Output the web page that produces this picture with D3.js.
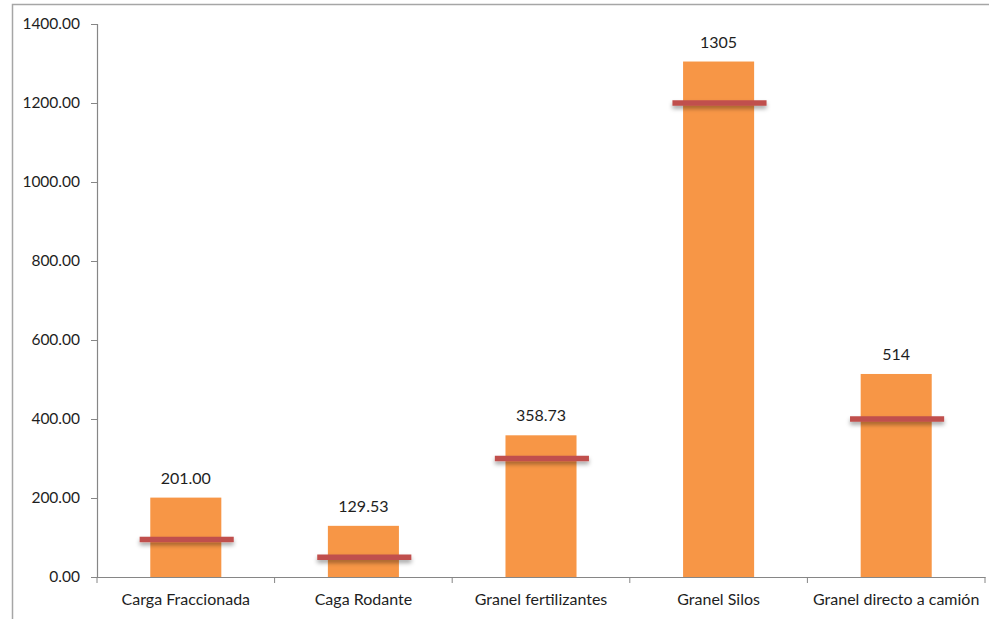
<!DOCTYPE html>
<html>
<head>
<meta charset="utf-8">
<script src="https://cdn.jsdelivr.net/npm/d3@7"></script>
<style>
  body { margin: 0; background: #fff; }
  text { font-family: Lato, "Noto Sans", sans-serif; fill: #1e1e1e; }
</style>
</head>
<body>
<div id="chartContainer"></div>
<script>
const categories = ["Carga Fraccionada", "Caga Rodante", "Granel fertilizantes", "Granel Silos", "Granel directo a camión"];
const barValues = [201.00, 129.53, 358.73, 1305, 514];
const barLabels = ["201.00", "129.53", "358.73", "1305", "514"];
const targetValues = [95, 50, 300, 1200, 400];
const yTicks = [0, 200, 400, 600, 800, 1000, 1200, 1400];

const chartWidth = 989;
const chartHeight = 619;
const margin = { top: 24, right: 4, bottom: 42, left: 97 };
const width = chartWidth - margin.left - margin.right;
const height = chartHeight - margin.top - margin.bottom;

const root = d3.select("#chartContainer").append("svg")
  .attr("width", chartWidth)
  .attr("height", chartHeight);

// shadow for the target lines
const defs = root.append("defs");
const filter = defs.append("filter").attr("id", "shadow")
  .attr("filterUnits", "userSpaceOnUse")
  .attr("x", 0).attr("y", 0).attr("width", chartWidth).attr("height", chartHeight);
filter.append("feDropShadow")
  .attr("dx", 0).attr("dy", 3).attr("stdDeviation", 2)
  .attr("flood-color", "#000").attr("flood-opacity", 0.35);

// outer frame (top and left only visible)
root.append("path")
  .attr("d", `M12.5,${chartHeight} L12.5,4.5 L${chartWidth},4.5`)
  .attr("fill", "none")
  .attr("stroke", "#a6a6a6")
  .attr("stroke-width", 1.5);

const svg = root.append("g")
  .attr("transform", `translate(${margin.left}, ${margin.top})`);

const xScale = d3.scaleBand()
  .domain(categories)
  .range([0, width])
  .paddingInner(0.6)
  .paddingOuter(0.3);

const xBand = d3.scaleBand()
  .domain(categories)
  .range([0, width]);

const yScale = d3.scaleLinear()
  .domain([0, 1400])
  .range([height, 0]);

// y axis
const yAxis = svg.append("g")
  .call(d3.axisLeft(yScale).tickValues(yTicks).tickFormat(d3.format(".2f")).tickSize(6).tickPadding(11));
yAxis.select(".domain").attr("stroke", "#868686").attr("stroke-width", 1.2);
yAxis.selectAll(".tick line").attr("stroke", "#868686");
yAxis.selectAll("text").style("font-size", "15.5px");

// bars
svg.selectAll(".bar")
  .data(barValues)
  .enter().append("rect")
  .attr("class", "bar")
  .attr("x", (d, i) => xScale(categories[i]))
  .attr("width", xScale.bandwidth())
  .attr("y", d => yScale(d))
  .attr("height", d => height - yScale(d))
  .style("fill", "#f79646");

// target markers
const markH = 5.5;
svg.selectAll(".target")
  .data(targetValues)
  .enter().append("rect")
  .attr("class", "target")
  .attr("x", (d, i) => xBand(categories[i]) + xBand.bandwidth() * 0.24)
  .attr("width", xBand.bandwidth() * 0.53)
  .attr("y", d => yScale(d) - markH / 2)
  .attr("height", markH)
  .attr("fill", "#c0504d")
  .attr("filter", "url(#shadow)");

// x axis
const xAxis = svg.append("g")
  .attr("transform", `translate(0, ${height})`)
  .call(d3.axisBottom(xBand).tickSize(0).tickPadding(17));
xAxis.select(".domain").attr("stroke", "#868686").attr("stroke-width", 1.2);
xAxis.selectAll("text").style("font-size", "16px");

// category separators
svg.selectAll(".sep")
  .data(d3.range(categories.length + 1))
  .enter().append("line")
  .attr("class", "sep")
  .attr("x1", i => i * xBand.step())
  .attr("x2", i => i * xBand.step())
  .attr("y1", height)
  .attr("y2", height + 6)
  .attr("stroke", "#868686");

// data labels
svg.selectAll(".label")
  .data(barValues)
  .enter().append("text")
  .attr("class", "label")
  .attr("x", (d, i) => xScale(categories[i]) + xScale.bandwidth() / 2)
  .attr("y", d => yScale(d) - 14)
  .attr("text-anchor", "middle")
  .style("font-size", "16px")
  .text((d, i) => barLabels[i]);
</script>
</body>
</html>
